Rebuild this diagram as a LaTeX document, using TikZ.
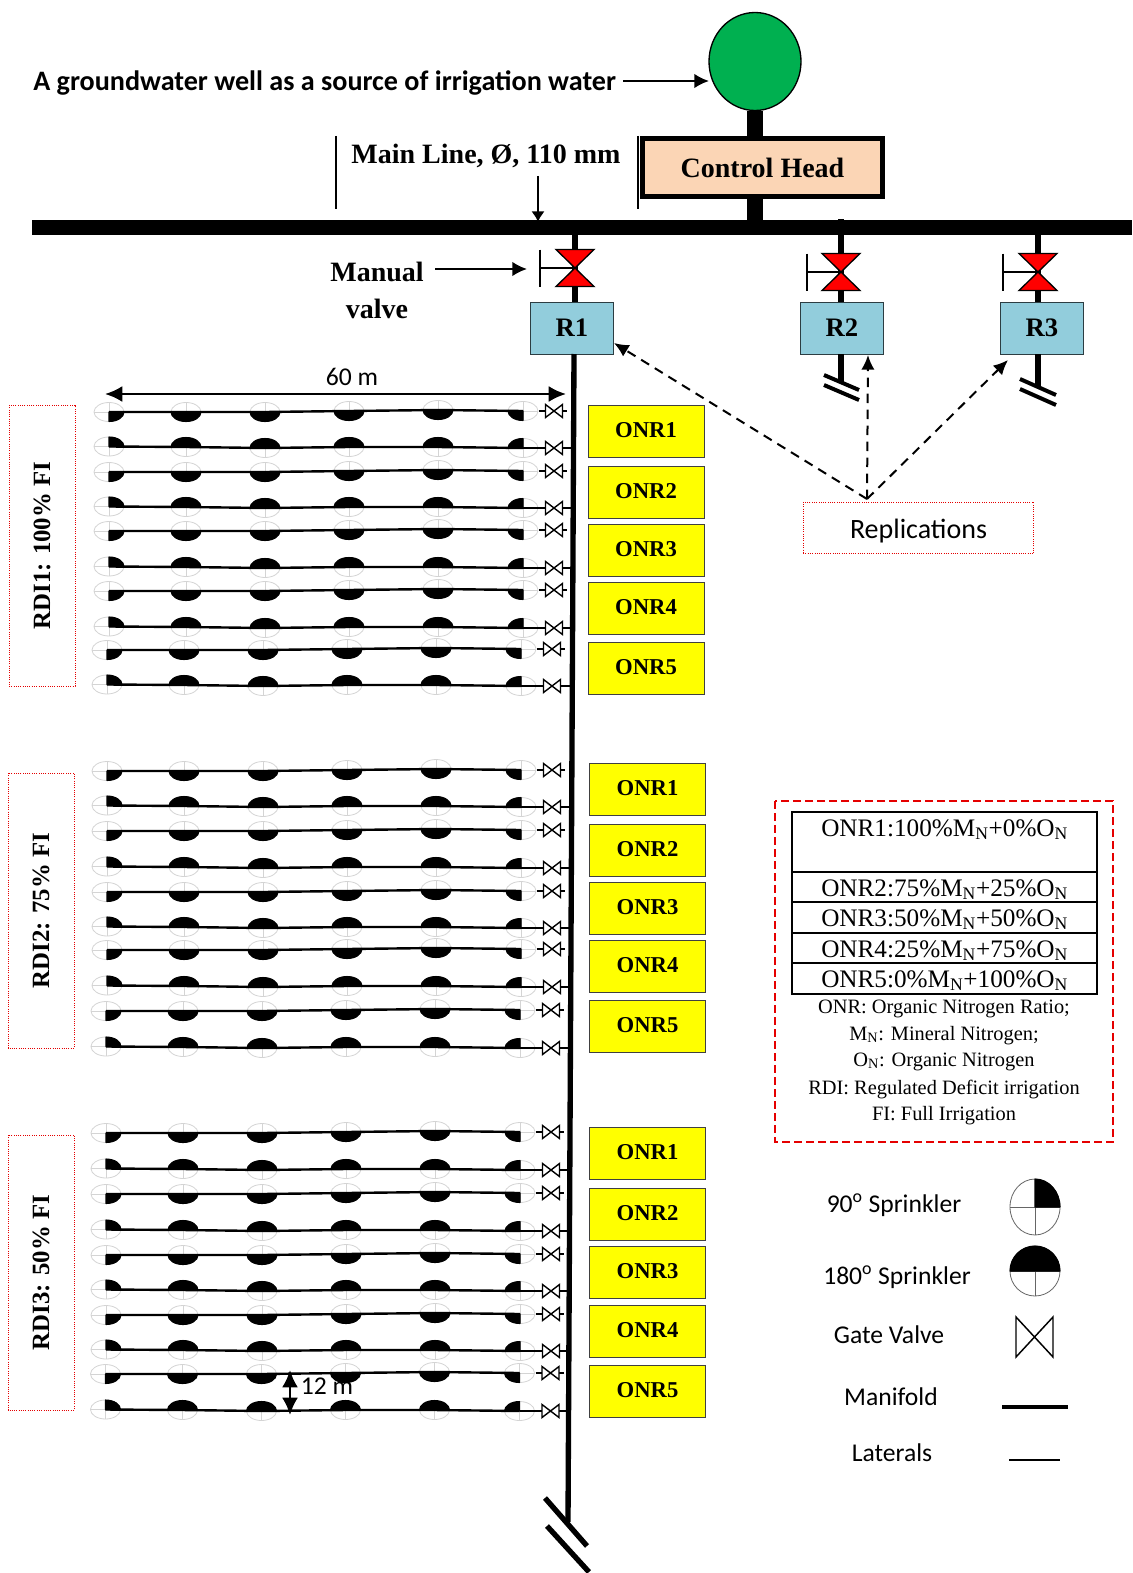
\documentclass[tikz,border=0pt]{standalone}
\usepackage{fontspec}
\setmainfont{Liberation Serif}
\newfontfamily\carl{Carlito}
\usetikzlibrary{arrows.meta,calc,shapes.geometric}
\definecolor{wellgreen}{HTML}{00B050}
\definecolor{headfill}{HTML}{FBD5B5}
\definecolor{repfill}{HTML}{92CDDC}
\definecolor{sprgrey}{HTML}{D4D4D4}
\definecolor{onryellow}{RGB}{255,255,0}
\tikzset{
 wellnode/.style={ellipse,draw=black,line width=1pt,fill=wellgreen,minimum width=69pt,minimum height=73.5pt,inner sep=0pt},
 headbox/.style={rectangle,draw=black,line width=3.6pt,fill=headfill,minimum width=180pt,minimum height=44pt,inner sep=0pt,font=\fontsize{21}{24}\selectfont\bfseries},
 repbox/.style={rectangle,draw=black!70!repfill,line width=.6pt,fill=repfill,minimum width=62.5pt,minimum height=39pt,inner sep=0pt,font=\fontsize{20}{24}\selectfont\bfseries},
 onrbox/.style={rectangle,draw=black!75,line width=.7pt,fill=onryellow,minimum width=87pt,minimum height=39pt,inner sep=0pt,font=\fontsize{17}{20}\selectfont\bfseries},
 rdibox/.style={rectangle,draw=red!90!black,densely dotted,line width=.7pt,rotate=90,minimum height=49.5pt,inner sep=0pt,font=\fontsize{18.6}{20}\selectfont\bfseries},
 plaintext/.style={inner sep=0pt,font=\fontsize{21}{24}\selectfont\bfseries},
 carltext/.style={inner sep=0pt,font=\carl\fontsize{19.2}{22}\selectfont},
 tabtext/.style={inner sep=0pt,anchor=base west,font=\fontsize{18.9}{22}\selectfont},
 notetext/.style={inner sep=0pt,anchor=base,font=\fontsize{15.3}{18}\selectfont},
 pipe/.style={line width=#1,line cap=butt},
 thinarrow/.style={line width=1.7pt,-{Latex[length=11pt,width=11pt]}},
 dasharrow/.style={line width=1.5pt,dash pattern=on 7pt off 5pt,-{Latex[length=11pt,width=10pt]}},
 dimarrow/.style={line width=1.9pt,{Latex[length=13pt,width=12pt]}-{Latex[length=13pt,width=12pt]}},
}
% sprinkler: x y startangle endangle rx ry colour (radii in px)
\newcommand\sprsym[7]{%
  \draw[#7,line width=.6pt] (#1,#2) ellipse[x radius=#5*.75pt,y radius=#6*.75pt];
  \draw[#7,line width=.6pt] ({#1-#5},#2) -- ({#1+#5},#2) ({#1},{#2-#6}) -- ({#1},{#2+#6});
  \filldraw[black,line width=.8pt,line join=round] (#1,#2) -- ++({#5*cos(#3)},{#6*sin(#3)}) arc[start angle=#3,end angle=#4,x radius=#5*.75pt,y radius=#6*.75pt] -- cycle;
}
% gate valve: x y half-width half-height
\newcommand\gatesym[4]{%
  \draw[black,fill=white,line width=1.05pt,line join=miter] ({#1-#3},{#2+#4}) -- ({#1+#3},{#2-#4}) -- ({#1+#3},{#2+#4}) -- ({#1-#3},{#2-#4}) -- cycle;
}
% red valve
\newcommand\redvalve[3]{% centre x, centre y, handle x
  \draw[black,line width=1pt,fill=red,line join=miter] ({#1-19},{#2+18.5}) -- ({#1+19},{#2+18.5}) -- ({#1-19},{#2-18.5}) -- ({#1+19},{#2-18.5}) -- cycle;
  \draw[black,line width=.9pt] (#3,{#2+18.5}) -- (#3,{#2-18.5});
  \draw[black,line width=.9pt] (#3,#2) -- (#1,#2);
}
% one lateral: id, y (down), dx, type 0 = lower half black and detached valve, 1 = upper half black and joined valve
\newcommand\lateral[4]{%
  \foreach \c/\sx/\oa/\ob in {1/109/0/-.5,2/186/0/0,3/265/0/1,4/349/-1/0,5/438/-2/0,6/523/-1/1}{%
    \pgfmathsetmacro\px{\sx+(#3)}%
    \ifnum#4=0 \pgfmathsetmacro\py{-(#2)-(\oa)}\else\pgfmathsetmacro\py{-(#2)-(\ob)}\fi
    \coordinate (s#1-\c) at (\px,\py);
    \ifnum\c=1
      \ifnum#4=0 \sprsym{\px}{\py}{270}{360}{15}{9.5}{sprgrey}\else\sprsym{\px}{\py}{0}{90}{15}{9.5}{sprgrey}\fi
    \else\ifnum\c=6
      \ifnum#4=0 \sprsym{\px}{\py}{180}{270}{15}{9.5}{sprgrey}\else\sprsym{\px}{\py}{90}{180}{15}{9.5}{sprgrey}\fi
    \else
      \ifnum#4=0 \sprsym{\px}{\py}{180}{360}{15}{9.5}{sprgrey}\else\sprsym{\px}{\py}{0}{180}{15}{9.5}{sprgrey}\fi
    \fi\fi
  }%
  \draw[black,line width=1.8pt] (s#1-1) -- (s#1-2) -- (s#1-3) -- (s#1-4) -- (s#1-5) -- (s#1-6);
  \pgfmathsetmacro\vx{554+(#3)}%
  \ifnum#4=0
    \pgfmathsetmacro\vy{-(#2)+1}%
    \coordinate (va#1) at ({\vx-15},\vy);
    \coordinate (vb#1) at ({\vx+13},\vy);
    \draw[black,line width=1.6pt] (va#1) -- (vb#1);
  \else
    \pgfmathsetmacro\vy{-(#2)-1}%
    \pgfmathsetmacro\mx{574-((#2)-355)*6/1165}%
    \coordinate (vb#1) at (\mx,\vy);
    \draw[black,line width=1.6pt] (s#1-6) -- (vb#1);
  \fi
  \gatesym{\vx}{\vy}{8.5}{6.5}
}
\newcommand\shifted[2]{\raisebox{#1}[\height][\depth]{#2}}
\begin{document}
\begin{tikzpicture}[x=.75pt,y=.75pt]
\useasboundingbox (0,0) rectangle (1132,-1573);
\fill[white] (0,0) rectangle (1132,-1573);

% pipes and top
\coordinate (barL) at (32,-227.5);
\coordinate (barR) at (1132,-227.5);
\coordinate (mainEnd) at (568,-1522);
\coordinate (t1) at (575,-228);
\coordinate (t2) at (841,-219);
\coordinate (t3) at (1038,-228);
\coordinate (h) at (755,-228);

\node[wellnode] (well) at (755,-61.5) {};
\node[headbox] (head) at (762.5,-167.5) {Control Head};
\node[repbox] (R1) at (572,-328) {R1};
\node[repbox] (R2) at (842,-328) {R2};
\node[repbox] (R3) at (1042,-328) {R3};

\draw[pipe=12pt] (well.south -| h) -- (head.north -| h);
\draw[pipe=12pt] (head.south -| h) -- (h);
\draw[pipe=11pt] (barL) -- (barR);
\draw[pipe=4.5pt] (t1) -- (R1.north -| t1);
\draw[pipe=5pt] (t2) -- (R2.north -| t2);
\draw[pipe=5pt] (t3) -- (R3.north -| t3);

\redvalve{575}{-268}{540}
\redvalve{841}{-272}{807}
\redvalve{1038}{-272}{1003}

% tails under R2, R3
\coordinate (tail2) at (841,-383);
\coordinate (tail3) at (1038,-387);
\draw[pipe=5pt] (R2.south -| t2) -- (tail2);
\draw[pipe=5pt] (R3.south -| t3) -- (tail3);
\draw[line width=3pt] (824,-375) -- (859,-390) (824,-385) -- (859,-400);
\draw[line width=3pt] (1020,-379) -- (1056,-395) (1020,-389) -- (1056,-405);

% main vertical
\draw[line width=4pt] (574,-354) -- (mainEnd);
\draw[line width=4pt] (545,-1498) -- (587,-1546) (547,-1526) -- (589,-1572);

% top labels
\node[inner sep=0pt,anchor=base west,font=\carl\bfseries\fontsize{21.1}{24}\selectfont] (title) at (33,-90.5) {A groundwater well as a source of irrigation water};
\coordinate (titleEnd) at (623,-81);
\draw[thinarrow] (titleEnd) -- (709,-81);
\node[plaintext] (mainlabel) at (486,-155.5) {Main Line, Ø, 110 mm};
\coordinate (mla) at (538,-176);
\coordinate (mlb) at (538,-222);
\draw[line width=1.3pt,-{Latex[length=8pt,width=10pt]}] (mla) -- (mlb);
\draw[line width=.8pt] (336,-136) -- (336,-209) (638,-136) -- (638,-209);
\node[plaintext] (manual) at (377,-272) {Manual};
\node[plaintext] (valvelabel) at (377,-309) {valve};
\coordinate (mva) at (435,-269);
\coordinate (mvb) at (527,-269);
\draw[thinarrow] (mva) -- (mvb);

% replications
\node[rectangle,draw=red!90!black,densely dotted,line width=.7pt,minimum width=173pt,minimum height=38.5pt,inner sep=0pt,font=\carl\fontsize{21}{24}\selectfont] (rep) at (918.5,-528) {\shifted{-2pt}{Replications}};
\coordinate (repTop) at (867,-499);
\coordinate (r1t) at (614,-343);
\coordinate (r2t) at (868,-355);
\coordinate (r3t) at (1008,-360);
\draw[dasharrow] (repTop) -- (r1t);
\draw[dasharrow] (repTop) -- (r2t);
\draw[dasharrow] (repTop) -- (r3t);

% 60 m
\coordinate (da) at (105,-394);
\coordinate (db) at (566,-394);
\draw[dimarrow] (da) -- (db);
\node[carltext] (sixty) at (352,-377) {60 m};

% laterals
\foreach \i/\y/\dx/\t in {
 a1/412/0/0,a2/447/0/1,a3/472/0/0,a4/507/0/1,a5/531/0/0,a6/567/0/1,a7/591/0/0,a8/627/0/1,a9/650/-2/0,a10/685/-2/1,
 b1/771/-2/0,b2/806/-2/1,b3/831/-2/0,b4/867/-2/1,b5/892/-2/0,b6/927/-2/1,b7/950/-2/0,b8/986/-2/1,b9/1011/-3/0,b10/1047/-3/1,
 c1/1133/-3/0,c2/1169/-3/1,c3/1194/-3/0,c4/1230/-3/1,c5/1255/-3/0,c6/1290/-3/1,c7/1315/-3/0,c8/1350/-3/1,c9/1374/-3.5/0,c10/1410/-3.5/1}{
  \lateral{\i}{\y}{\dx}{\t}
}

% ONR boxes
\foreach \n/\txt/\cy in {1/ONR1/431.5,2/ONR2/492.5,3/ONR3/550.5,4/ONR4/608.5,5/ONR5/668}{
  \node[onrbox] (oa\n) at (646,-\cy) {\shifted{.8pt}{\txt}};
}
\foreach \n/\txt/\cy in {1/ONR1/789,2/ONR2/850,3/ONR3/908,4/ONR4/966,5/ONR5/1026}{
  \node[onrbox] (ob\n) at (647.5,-\cy) {\shifted{.8pt}{\txt}};
}
\foreach \n/\txt/\cy in {1/ONR1/1153,2/ONR2/1214,3/ONR3/1272.5,4/ONR4/1331,5/ONR5/1391}{
  \node[onrbox] (oc\n) at (647.5,-\cy) {\shifted{.8pt}{\txt}};
}

% RDI boxes
\node[rdibox,minimum width=210.75pt] (rdi1) at (42,-545.5) {RDI1: 100\% FI};
\node[rdibox,minimum width=206.25pt] (rdi2) at (41,-910.5) {RDI2: 75\% FI};
\node[rdibox,minimum width=206.25pt] (rdi3) at (41,-1272.5) {RDI3: 50\% FI};

% 12 m
\coordinate (ta) at (290,-1370);
\coordinate (tb) at (290,-1415);
\draw[dimarrow] (ta) -- (tb);
\node[carltext] (twelve) at (327,-1386) {12 m};

% legend frame and table
\draw[red!90!black,line width=1.3pt,dash pattern=on 6pt off 3pt] (775,-801) rectangle (1113,-1142);
\draw[black,line width=1.3pt] (792,-812) rectangle (1097,-994);
\draw[black,line width=1.3pt] (792,-872) -- (1097,-872) (792,-902) -- (1097,-902) (792,-933) -- (1097,-933) (792,-963) -- (1097,-963);
\newcommand\sbn{\textsubscript{N}}
\node[tabtext] (l1) at (821,-836) {ONR1:100\%M\sbn+0\%O\sbn};
\node[tabtext] (l2) at (821,-896) {ONR2:75\%M\sbn+25\%O\sbn};
\node[tabtext] (l3) at (821,-926) {ONR3:50\%M\sbn+50\%O\sbn};
\node[tabtext] (l4) at (821,-957) {ONR4:25\%M\sbn+75\%O\sbn};
\node[tabtext] (l5) at (821,-987) {ONR5:0\%M\sbn+100\%O\sbn};
\node[notetext] (n1) at (944,-1013) {ONR: Organic Nitrogen Ratio;};
\node[notetext] (n2) at (944,-1040) {M\sbn: Mineral Nitrogen;};
\node[notetext] (n3) at (944,-1066) {O\sbn: Organic Nitrogen};
\node[notetext] (n4) at (944,-1094) {RDI: Regulated Deficit irrigation};
\node[notetext] (n5) at (944,-1120) {FI: Full Irrigation};

% symbol key
\node[carltext] (k1) at (894,-1205) {90\textsuperscript{o} Sprinkler};
\node[carltext] (k2) at (897,-1277) {180\textsuperscript{o} Sprinkler};
\node[carltext] (k3) at (889,-1335) {Gate Valve};
\node[carltext] (k4) at (891,-1397) {Manifold};
\node[carltext] (k5) at (892,-1453) {Laterals};
\sprsym{1035}{-1207}{0}{90}{25}{28}{black!60}
\sprsym{1035}{-1271}{0}{180}{25}{25}{black!60}
\draw[black,line width=1.1pt,line join=miter] (1016,-1357) -- (1053,-1317) -- (1053,-1357) -- (1016,-1317) -- cycle;
\draw[line width=3.6pt] (1002,-1407) -- (1068,-1407);
\draw[line width=1.5pt] (1009,-1460) -- (1060,-1460);
\end{tikzpicture}
\end{document}
